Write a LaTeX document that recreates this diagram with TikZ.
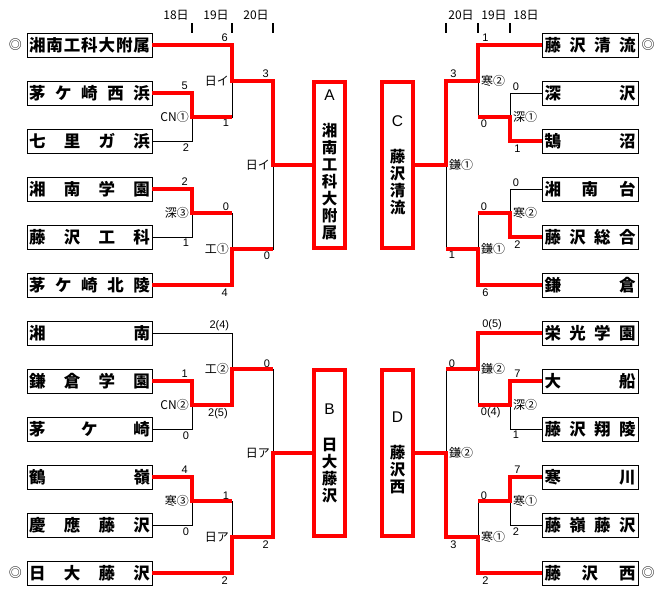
\documentclass[tikz,border=0pt]{standalone}
\usepackage{fontspec}
\setmainfont{Liberation Sans}
\newfontfamily\jp{Noto Sans CJK JP}
\newcommand\lname[1]{\hbox to 121pt{\spaceskip=0pt plus 1fil\xspaceskip=0pt plus 1fil\relax #1}}
\newcommand\rname[1]{\hbox to 91pt{\spaceskip=0pt plus 1fil\xspaceskip=0pt plus 1fil\relax #1}}
\hbadness=10000

\begin{document}
\begin{tikzpicture}[x=1pt,y=-1pt,
    win/.style={red,line width=3.6pt},
    lose/.style={line width=0.8pt},
    teamL/.style={draw,line width=0.8pt,inner sep=0pt,minimum width=125pt,minimum height=24pt,font=\jp\bfseries\fontsize{16.5}{17}\selectfont},
    teamR/.style={teamL,minimum width=96pt},
    grp/.style={draw=red,line width=3.6pt,inner sep=0pt,minimum width=31pt,minimum height=166pt,align=center,font=\jp\bfseries\fontsize{15.5}{17}\selectfont},
    scTL/.style={pos=0.5,anchor=south east,inner sep=1pt,xshift=-1.5pt,yshift=0.5pt,text=black,font=\fontsize{11}{11}\selectfont},
    scBL/.style={scTL,anchor=north east,yshift=-1.5pt},
    scTR/.style={scTL,anchor=south west,xshift=3pt},
    scBR/.style={scBL,anchor=north west,xshift=3pt},
    gmL/.style={anchor=east,inner sep=1pt,xshift=-2pt,font=\jp\fontsize{12}{12}\selectfont},
    gmR/.style={gmL,anchor=west,xshift=4pt},
    day/.style={inner sep=0pt,font=\jp\fontsize{12}{12}\selectfont},
    seed/.style={inner sep=0pt,font=\jp\fontsize{13}{13}\selectfont}]
\useasboundingbox (0,0) rectangle (667,598);

% dates
\node[day] (dl18) at (176,15) {18日};
\node[day] (dl19) at (216,15) {19日};
\node[day] (dl20) at (256,15) {20日};
\node[day] (dr20) at (461,15) {20日};
\node[day] (dr19) at (494,15) {19日};
\node[day] (dr18) at (526,15) {18日};
\foreach \x in {192,232,273,446,478,510}
    \draw[line width=1.3pt] (\x,23) -- (\x,33);

% teams (left)
\node[teamL] (l1) at (89.5,45) {\lname{湘 南 工 科 大 附 属}};
\node[teamL] (l2) at (89.5,93) {\lname{茅 ケ 崎 西 浜}};
\node[teamL] (l3) at (89.5,141) {\lname{七 里 ガ 浜}};
\node[teamL] (l4) at (89.5,189) {\lname{湘 南 学 園}};
\node[teamL] (l5) at (89.5,237) {\lname{藤 沢 工 科}};
\node[teamL] (l6) at (89.5,285) {\lname{茅 ケ 崎 北 陵}};
\node[teamL] (l7) at (89.5,333) {\lname{湘 南}};
\node[teamL] (l8) at (89.5,381) {\lname{鎌 倉 学 園}};
\node[teamL] (l9) at (89.5,429) {\lname{茅 ケ 崎}};
\node[teamL] (l10) at (89.5,477) {\lname{鶴 嶺}};
\node[teamL] (l11) at (89.5,525) {\lname{慶 應 藤 沢}};
\node[teamL] (l12) at (89.5,573) {\lname{日 大 藤 沢}};
% teams (right)
\node[teamR] (r1) at (590,45) {\rname{藤 沢 清 流}};
\node[teamR] (r2) at (590,93) {\rname{深 沢}};
\node[teamR] (r3) at (590,141) {\rname{鵠 沼}};
\node[teamR] (r4) at (590,189) {\rname{湘 南 台}};
\node[teamR] (r5) at (590,237) {\rname{藤 沢 総 合}};
\node[teamR] (r6) at (590,285) {\rname{鎌 倉}};
\node[teamR] (r7) at (590,333) {\rname{栄 光 学 園}};
\node[teamR] (r8) at (590,381) {\rname{大 船}};
\node[teamR] (r9) at (590,429) {\rname{藤 沢 翔 陵}};
\node[teamR] (r10) at (590,477) {\rname{寒 川}};
\node[teamR] (r11) at (590,525) {\rname{藤 嶺 藤 沢}};
\node[teamR] (r12) at (590,573) {\rname{藤 沢 西}};
\node[seed] (m1) at (15.5,45) {◎};
\node[seed] (m2) at (15.5,573) {◎};
\node[seed] (m3) at (648,45) {◎};
\node[seed] (m4) at (648,573) {◎};

% blocks
\node[grp] (A) at (329.5,165) {{\normalfont A}\\[19pt]湘\\南\\工\\科\\大\\附\\属};
\node[grp] (B) at (329.5,453) {{\normalfont B}\\[19pt]日\\大\\藤\\沢};
\node[grp] (C) at (397.5,165) {{\normalfont C}\\[19pt]藤\\沢\\清\\流};
\node[grp] (D) at (397.5,453) {{\normalfont D}\\[19pt]藤\\沢\\西};

% junctions
\coordinate (j1) at (192,117);
\coordinate (j2) at (232,81);
\coordinate (j3) at (192,213);
\coordinate (j4) at (232,249);
\coordinate (j5) at (273,165);
\coordinate (j6) at (192,405);
\coordinate (j7) at (232,369);
\coordinate (j8) at (192,501);
\coordinate (j9) at (232,537);
\coordinate (j10) at (273,453);
\coordinate (k1) at (510,117);
\coordinate (k2) at (478,81);
\coordinate (k3) at (510,213);
\coordinate (k4) at (478,249);
\coordinate (k5) at (446,165);
\coordinate (k6) at (510,405);
\coordinate (k7) at (478,369);
\coordinate (k8) at (510,501);
\coordinate (k9) at (478,537);
\coordinate (k10) at (446,453);

% left, losers
\draw[lose] (l3.east) -| node[scBL] (s1) {2} (j1);
\draw[lose] (j1) -| node[scBL] (s2) {1} (j2);
\draw[lose] (l5.east) -| node[scBL] (s3) {1} (j3);
\draw[lose] (j3) -| node[scTL] (s4) {0} (j4);
\draw[lose] (j4) -| node[scBL] (s5) {0} (j5);
\draw[lose] (l7.east) -| node[scTL] (s6) {2(4)} (j7);
\draw[lose] (l9.east) -| node[scBL] (s7) {0} (j6);
\draw[lose] (j7) -| node[scTL] (s8) {0} (j10);
\draw[lose] (l11.east) -| node[scBL] (s9) {0} (j8);
\draw[lose] (j8) -| node[scTL] (s10) {1} (j9);
% left, winners
\draw[win] (l1.east) -| node[scTL] (s11) {6} (j2) -| node[scTL] (s12) {3} (j5) -- (A.west);
\draw[win] (l2.east) -| node[scTL] (s13) {5} (j1) -- (j1 -| j2);
\draw[win] (l4.east) -| node[scTL] (s14) {2} (j3) -- (j3 -| j4);
\draw[win] (l6.east) -| node[scBL] (s15) {4} (j4) -- (j4 -| j5);
\draw[win] (l8.east) -| node[scTL] (s16) {1} (j6) -| node[scBL] (s17) {2(5)} (j7) -- (j7 -| j10);
\draw[win] (l10.east) -| node[scTL] (s18) {4} (j8) -- (j8 -| j9);
\draw[win] (l12.east) -| node[scBL] (s19) {2} (j9) -| node[scBL] (s20) {2} (j10) -- (B.west);

% right, losers
\draw[lose] (r2.west) -| node[scTR] (t1) {0} (k1);
\draw[lose] (k1) -| node[scBR] (t2) {0} (k2);
\draw[lose] (r4.west) -| node[scTR] (t3) {0} (k3);
\draw[lose] (k3) -| node[scTR] (t4) {0} (k4);
\draw[lose] (k4) -| node[scBR] (t5) {1} (k5);
\draw[lose] (r9.west) -| node[scBR] (t6) {1} (k6);
\draw[lose] (k6) -| node[scBR] (t7) {0(4)} (k7);
\draw[lose] (k7) -| node[scTR] (t8) {0} (k10);
\draw[lose] (r11.west) -| node[scBR] (t9) {2} (k8);
\draw[lose] (k8) -| node[scTR] (t10) {0} (k9);
% right, winners
\draw[win] (r1.west) -| node[scTR] (t11) {1} (k2) -| node[scTR] (t12) {3} (k5) -- (C.east);
\draw[win] (r3.west) -| node[scBR] (t13) {1} (k1) -- (k1 -| k2);
\draw[win] (r5.west) -| node[scBR] (t14) {2} (k3) -- (k3 -| k4);
\draw[win] (r6.west) -| node[scBR] (t15) {6} (k4) -- (k4 -| k5);
\draw[win] (r7.west) -| node[scTR] (t16) {0(5)} (k7) -- (k7 -| k10);
\draw[win] (r8.west) -| node[scTR] (t17) {7} (k6) -- (k6 -| k7);
\draw[win] (r10.west) -| node[scTR] (t18) {7} (k8) -- (k8 -| k9);
\draw[win] (r12.west) -| node[scBR] (t19) {2} (k9) -| node[scBR] (t20) {3} (k10) -- (D.east);

% games
\node[gmL] (g1) at (j1) {CN①};
\node[gmL] (g2) at (j2) {日イ};
\node[gmL] (g3) at (j3) {深③};
\node[gmL] (g4) at (j4) {工①};
\node[gmL] (g5) at (j5) {日イ};
\node[gmL] (g6) at (j6) {CN②};
\node[gmL] (g7) at (j7) {工②};
\node[gmL] (g8) at (j8) {寒③};
\node[gmL] (g9) at (j9) {日ア};
\node[gmL] (g10) at (j10) {日ア};
\node[gmR] (h1) at (k1) {深①};
\node[gmR] (h2) at (k2) {寒②};
\node[gmR] (h3) at (k3) {寒②};
\node[gmR] (h4) at (k4) {鎌①};
\node[gmR] (h5) at (k5) {鎌①};
\node[gmR] (h6) at (k6) {深②};
\node[gmR] (h7) at (k7) {鎌②};
\node[gmR] (h8) at (k8) {寒①};
\node[gmR] (h9) at (k9) {寒①};
\node[gmR] (h10) at (k10) {鎌②};
\end{tikzpicture}
\end{document}
